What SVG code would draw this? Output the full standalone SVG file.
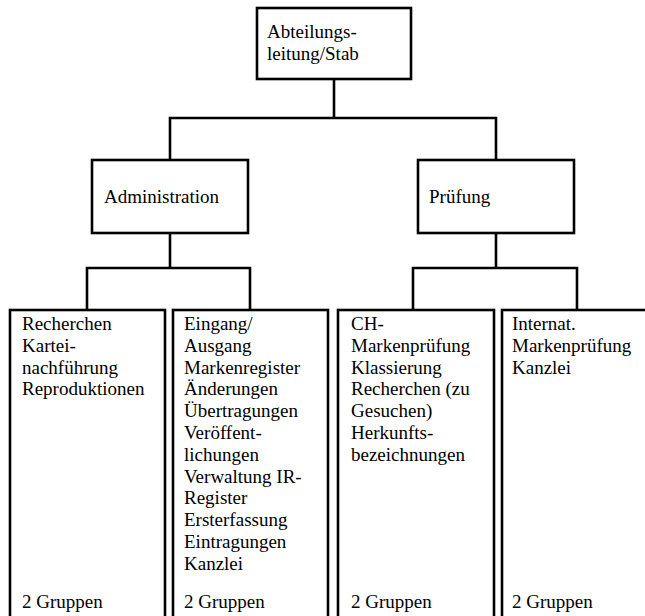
<svg xmlns="http://www.w3.org/2000/svg" width="645" height="616" viewBox="0 0 645 616">
<style>
.box{fill:#fff;stroke:#000;stroke-width:2.6}
.ln{fill:none;stroke:#000;stroke-width:2.6;stroke-linecap:square}
text{font-family:"Liberation Serif",serif;font-size:19px;fill:#000}
</style>
<rect width="645" height="616" fill="#fff"/>
<g id="connectors">
<path class="ln" d="M334 79V118M170 118H496M170 118V160M496 118V160"/>
<path class="ln" d="M170 233V268M87 268H250M87 268V310M250 268V310"/>
<path class="ln" d="M496 233V268M413 268H577M413 268V310M577 268V310"/>
</g>
<g id="stab">
<rect class="box" x="257" y="8" width="154" height="71"/>
<text x="267" y="38" font-family="Liberation Serif, serif">Abteilungs-<tspan x="267" dy="21.8">leitung/Stab</tspan></text>
</g>
<g id="administration">
<rect class="box" x="92" y="160" width="156" height="73"/>
<text x="104" y="203">Administration</text>
</g>
<g id="pruefung">
<rect class="box" x="418" y="160" width="156" height="73"/>
<text x="429" y="203">Prüfung</text>
</g>
<g id="adm1">
<rect class="box" x="10" y="310" width="155" height="330"/>
<text x="22" y="330">Recherchen<tspan x="22" dy="21.8">Kartei-</tspan><tspan x="22" dy="21.8">nachführung</tspan><tspan x="22" dy="21.8">Reproduktionen</tspan></text>
<text x="22" y="608">2 Gruppen</text>
</g>
<g id="adm2">
<rect class="box" x="173" y="310" width="155" height="330"/>
<text x="184" y="330">Eingang/<tspan x="184" dy="21.8">Ausgang</tspan><tspan x="184" dy="21.8">Markenregister</tspan><tspan x="184" dy="21.8">Änderungen</tspan><tspan x="184" dy="21.8">Übertragungen</tspan><tspan x="184" dy="21.8">Veröffent-</tspan><tspan x="184" dy="21.8">lichungen</tspan><tspan x="184" dy="21.8">Verwaltung IR-</tspan><tspan x="184" dy="21.8">Register</tspan><tspan x="184" dy="21.8">Ersterfassung</tspan><tspan x="184" dy="21.8">Eintragungen</tspan><tspan x="184" dy="21.8">Kanzlei</tspan></text>
<text x="184" y="608">2 Gruppen</text>
</g>
<g id="pr1">
<rect class="box" x="338" y="310" width="156" height="330"/>
<text x="351" y="330">CH-<tspan x="351" dy="21.8">Markenprüfung</tspan><tspan x="351" dy="21.8">Klassierung</tspan><tspan x="351" dy="21.8">Recherchen (zu</tspan><tspan x="351" dy="21.8">Gesuchen)</tspan><tspan x="351" dy="21.8">Herkunfts-</tspan><tspan x="351" dy="21.8">bezeichnungen</tspan></text>
<text x="351" y="608">2 Gruppen</text>
</g>
<g id="pr2">
<rect class="box" x="502" y="310" width="150" height="330"/>
<text x="512" y="330">Internat.<tspan x="512" dy="21.8">Markenprüfung</tspan><tspan x="512" dy="21.8">Kanzlei</tspan></text>
<text x="512" y="608">2 Gruppen</text>
</g>
</svg>
